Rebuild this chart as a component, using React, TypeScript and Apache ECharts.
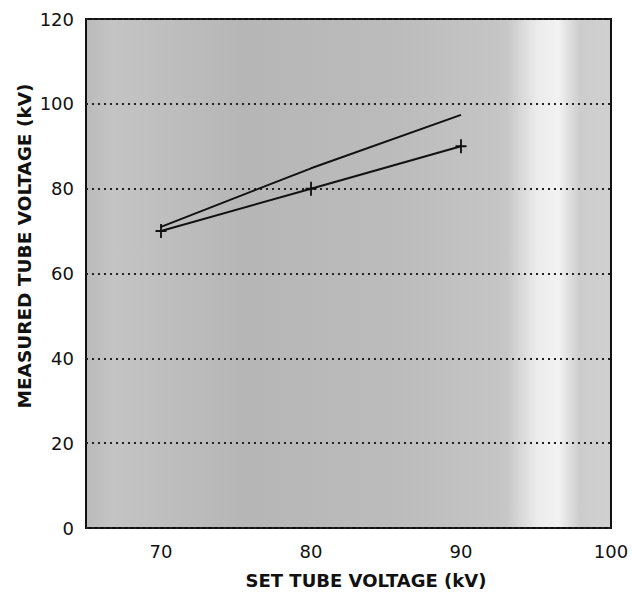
import React, { useEffect, useRef } from "react";
import * as echarts from "echarts";

const setVoltage = [70, 80, 90];
const measuredUpper = [71, 84.8, 97.4];
const measuredLower = [70, 80, 90];
const yTicks = [0, 20, 40, 60, 80, 100, 120];
const xTickLabels = [70, 80, 90, 100];
const xTitle = "SET TUBE VOLTAGE (kV)";
const yTitle = "MEASURED TUBE VOLTAGE (kV)";

const PLUS =
  "path://M-1,-7 L1,-7 L1,-1 L6,-1 L6,1 L1,1 L1,7 L-1,7 L-1,1 L-6,1 L-6,-1 L-1,-1 Z";

export default function App() {
  const ref = useRef<HTMLDivElement>(null);
  useEffect(() => {
    document.body.style.margin = "0";
    if (!ref.current) return;
    const chart = echarts.init(ref.current, null, { renderer: "svg" });
    const font = "DejaVu Sans, Arial, Helvetica, sans-serif";
    chart.setOption({
      animation: false,
      backgroundColor: "#ffffff",
      grid: {
        left: 86,
        right: 21,
        top: 19,
        bottom: 68,
        show: true,
        borderColor: "#111",
        borderWidth: 2,
        backgroundColor: new echarts.graphic.LinearGradient(0, 0, 1, 0, [
          { offset: 0, color: "#bababa" },
          { offset: 0.05, color: "#c4c4c4" },
          { offset: 0.3, color: "#b6b6b6" },
          { offset: 0.6, color: "#bcbcbc" },
          { offset: 0.8, color: "#c6c6c6" },
          { offset: 0.86, color: "#ececec" },
          { offset: 0.9, color: "#f2f2f2" },
          { offset: 0.94, color: "#cdcdcd" },
          { offset: 1, color: "#d0d0d0" },
        ]),
      },
      graphic: [
        {
          type: "text",
          x: 366,
          y: 580,
          style: {
            text: xTitle,
            font: "bold 18px DejaVu Sans, Arial, sans-serif",
            fill: "#111",
            align: "center",
            verticalAlign: "middle",
          },
        },
        {
          type: "text",
          x: 24,
          y: 246,
          rotation: Math.PI / 2,
          style: {
            text: yTitle,
            font: "bold 18.5px DejaVu Sans, Arial, sans-serif",
            fill: "#111",
            align: "center",
            verticalAlign: "middle",
          },
        },
      ],
      xAxis: {
        type: "value",
        min: 65,
        max: 100,
        interval: 5,
        axisLine: { show: false },
        axisTick: { show: false },
        splitLine: { show: false },
        axisLabel: {
          margin: 14,
          fontFamily: font,
          fontSize: 18,
          color: "#111",
          formatter: (v: number) =>
            xTickLabels.indexOf(v) >= 0 ? String(v) : "",
        },
      },
      yAxis: {
        type: "value",
        min: yTicks[0],
        max: yTicks[yTicks.length - 1],
        interval: 20,
        axisLine: { show: false },
        axisTick: { show: false },
        axisLabel: {
          margin: 12,
          fontFamily: font,
          fontSize: 18,
          color: "#111",
        },
        splitLine: {
          show: true,
          lineStyle: { color: "#222", width: 2, type: [2, 4] },
        },
      },
      series: [
        {
          type: "line",
          data: setVoltage.map((x, i) => [x, measuredUpper[i]]),
          showSymbol: false,
          lineStyle: { color: "#111", width: 2 },
          z: 3,
        },
        {
          type: "line",
          data: setVoltage.map((x, i) => [x, measuredLower[i]]),
          symbol: PLUS,
          symbolSize: [11, 14],
          itemStyle: { color: "#111" },
          lineStyle: { color: "#111", width: 2 },
          z: 4,
        },
      ],
    });
    return () => chart.dispose();
  }, []);
  return <div ref={ref} style={{ width: 632, height: 596 }} />;
}
